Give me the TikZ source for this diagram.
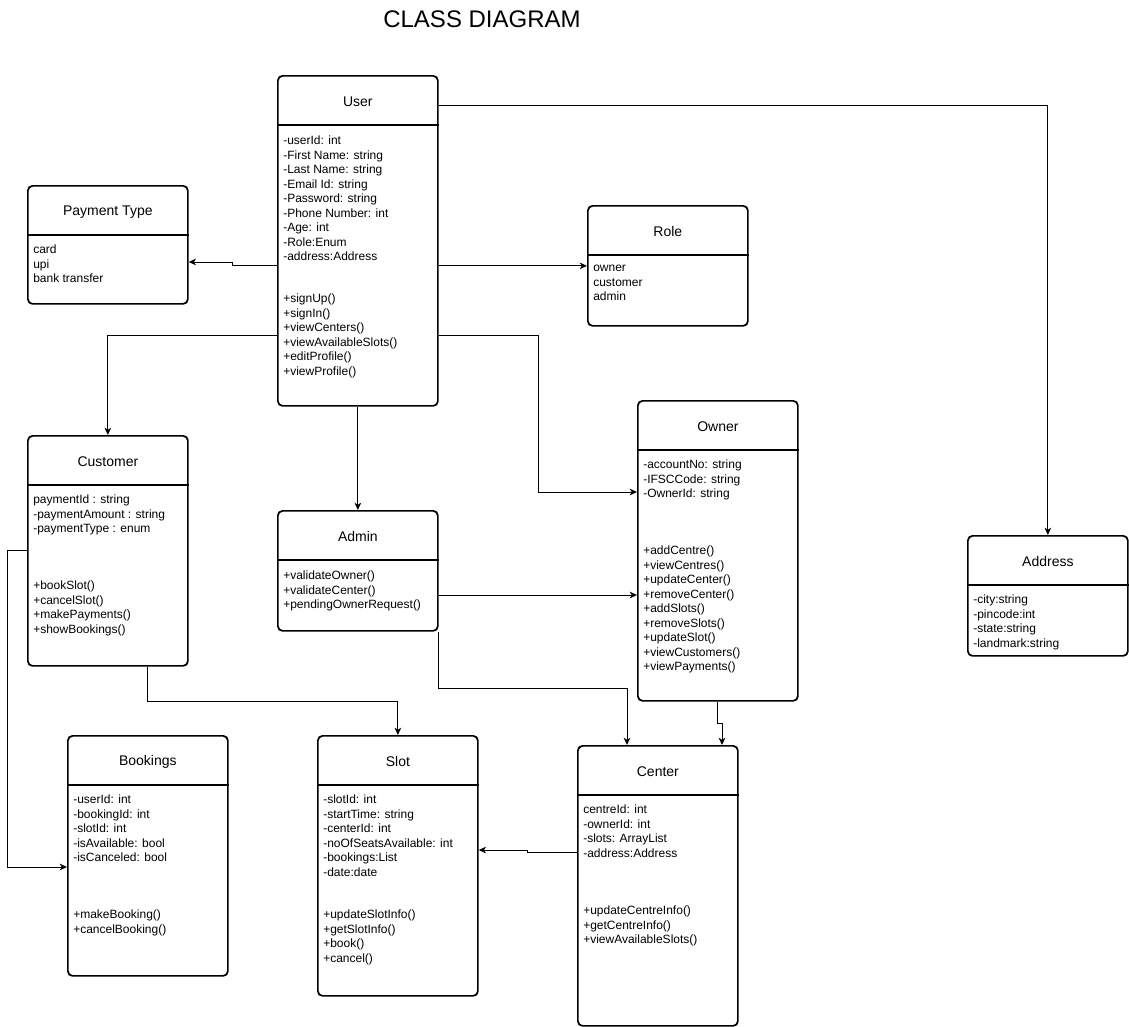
\documentclass[tikz,border=0pt]{standalone}
\usepackage{fontspec}
\setmainfont{Liberation Sans}
\usetikzlibrary{arrows.meta}
\tikzset{
  x=0.75pt, y=-0.75pt,
  clsbox/.style={draw, line width=1.3pt, rounded corners=3.5pt, anchor=north west, minimum width=120pt, inner sep=0pt},
  clsline/.style={line width=1.3pt},
  clstitle/.style={font=\fontsize{10.5pt}{12pt}\selectfont},
  txt/.style={anchor=north west, inner sep=0pt, align=left, yshift=-2.25pt, font=\fontsize{9pt}{10.875pt}\selectfont, execute at begin node=\strut},
  arr/.style={line width=0.75pt, -{Stealth[length=5.5pt,width=5pt,inset=1.6pt]}},
}
\newcommand\umlclass[5]{%
  \node[clsbox, minimum height=#4] (#1) at (#2,#3) {};
  \draw[clsline] ([yshift=-37.5pt]#1.north west) -- ([yshift=-37.5pt]#1.north east);
  \node[clstitle] (#1-title) at ([yshift=-20pt]#1.north) {#5};
}
\begin{document}
\begin{tikzpicture}
\useasboundingbox (0,0) rectangle (1129,1026);

\node[font=\fontsize{18pt}{20pt}\selectfont] (title) at (482,19) {CLASS DIAGRAM};

% classes
\umlclass{user}{277}{75}{247.5pt}{User}
\node[txt] (user-attr) at (283,133) {-userId: int\\-First Name: string\\-Last Name: string\\-Email Id: string\\-Password: string\\-Phone Number: int\\-Age: int\\-Role:Enum\\-address:Address};
\node[txt] (user-meth) at (283,291) {+signUp()\\+signIn()\\+viewCenters()\\+viewAvailableSlots()\\+editProfile()\\+viewProfile()};

\umlclass{payment}{27}{185}{88.5pt}{Payment Type}
\node[txt] (payment-attr) at (33,242) {card\\upi\\bank transfer};

\umlclass{role}{587}{205}{90pt}{Role}
\node[txt] (role-attr) at (593,262) {owner\\customer\\admin};

\umlclass{customer}{27}{435}{172.5pt}{Customer}
\node[txt] (customer-attr) at (33,492) {paymentId : string\\-paymentAmount : string\\-paymentType : enum};
\node[txt] (customer-meth) at (33,578) {+bookSlot()\\+cancelSlot()\\+makePayments()\\+showBookings()};

\umlclass{admin}{277}{510}{90pt}{Admin}
\node[txt] (admin-meth) at (283,568) {+validateOwner()\\+validateCenter()\\+pendingOwnerRequest()};

\umlclass{owner}{637}{400}{225pt}{Owner}
\node[txt] (owner-attr) at (643,457) {-accountNo: string\\-IFSCCode: string\\-OwnerId: string};
\node[txt] (owner-meth) at (643,543) {+addCentre()\\+viewCentres()\\+updateCenter()\\+removeCenter()\\+addSlots()\\+removeSlots()\\+updateSlot()\\+viewCustomers()\\+viewPayments()};

\umlclass{address}{967}{535}{90pt}{Address}
\node[txt] (address-attr) at (973,592) {-city:string\\-pincode:int\\-state:string\\-landmark:string};

\umlclass{bookings}{67}{735}{180pt}{Bookings}
\node[txt] (bookings-attr) at (73,792) {-userId: int\\-bookingId: int\\-slotId: int\\-isAvailable: bool\\-isCanceled: bool};
\node[txt] (bookings-meth) at (73,907) {+makeBooking()\\+cancelBooking()};

\umlclass{slot}{317}{735}{195pt}{Slot}
\node[txt] (slot-attr) at (323,792) {-slotId: int\\-startTime: string\\-centerId: int\\-noOfSeatsAvailable: int\\-bookings:List\\-date:date};
\node[txt] (slot-meth) at (323,907) {+updateSlotInfo()\\+getSlotInfo()\\+book()\\+cancel()};

\umlclass{center}{577}{745}{210pt}{Center}
\node[txt] (center-attr) at (583,802) {centreId: int\\-ownerId: int\\-slots: ArrayList\\-address:Address};
\node[txt] (center-meth) at (583,903) {+updateCentreInfo()\\+getCentreInfo()\\+viewAvailableSlots()};

% connectors
\draw[arr] ([yshift=-22.5pt]user.north east) -| (address.north);
\draw[arr] ([yshift=-142.5pt]user.north west) -- ++(-45,0) |- ([yshift=-57.75pt]payment.north east);
\draw[arr] (role.west -| user.east) -- (role.west);
\draw[arr] ([yshift=-195pt]user.north west) -| (customer.north);
\draw[arr] ([yshift=-195pt]user.north east) -- ++(100,0) |- ([yshift=-69pt]owner.north west);
\draw[arr] (user.south) -- (admin.north);
\draw[arr] ([yshift=-63.75pt]admin.north east) -- ([yshift=-63.75pt]admin.north east -| owner.west);
\draw[arr] (admin.south east) -- ++(0,57) -| ([xshift=37.5pt]center.north west);
\draw[arr] (owner.south) -- ++(0,22) -| ([xshift=108.75pt]center.north west);
\draw[arr] ([xshift=90pt]customer.south west) -- ++(0,35) -| (slot.north);
\draw[arr] ([yshift=-86.25pt]customer.north west) -- ++(-20,0) |- ([yshift=-99pt]bookings.north west);
\draw[arr] ([yshift=-80.25pt]center.north west) -- ++(-50,0) |- ([yshift=-86.25pt]slot.north east);
\end{tikzpicture}
\end{document}
